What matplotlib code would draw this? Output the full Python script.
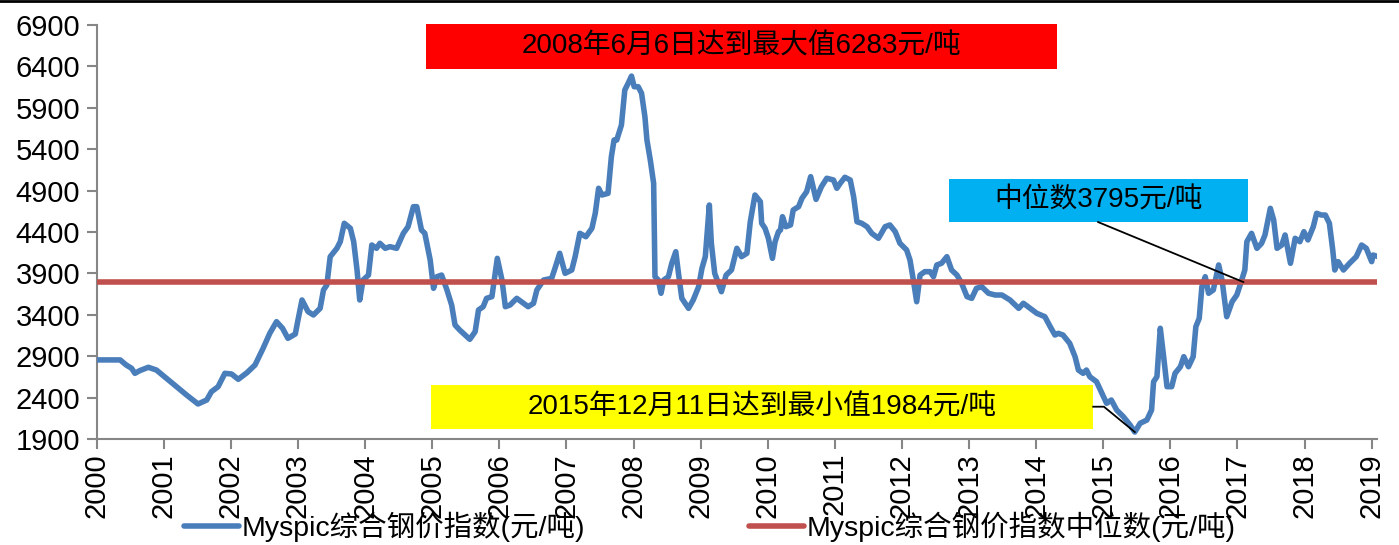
import matplotlib
matplotlib.use("Agg")
import matplotlib.pyplot as plt
from matplotlib.patches import Rectangle
from matplotlib.lines import Line2D

plt.rcParams['font.family'] = ['Liberation Sans', 'Noto Sans CJK SC', 'DejaVu Sans']

# ---- data (decimal year on the category-like axis, index value in 元/吨) ----
years = [2000.00, 2000.35, 2000.44, 2000.52, 2000.57, 2000.64, 2000.77, 2000.89,
         2001.04, 2001.19, 2001.34, 2001.51, 2001.64, 2001.71, 2001.81, 2001.91,
         2002.01, 2002.11, 2002.24, 2002.36, 2002.48, 2002.58, 2002.68, 2002.77,
         2002.85, 2002.96, 2003.00, 2003.06, 2003.15, 2003.23, 2003.33, 2003.38,
         2003.43, 2003.48, 2003.58, 2003.63, 2003.69, 2003.78, 2003.83, 2003.88,
         2003.92, 2003.97, 2004.05, 2004.10, 2004.17, 2004.22, 2004.30, 2004.37,
         2004.47, 2004.57, 2004.64, 2004.72, 2004.77, 2004.84, 2004.89, 2004.97,
         2005.02, 2005.07, 2005.14, 2005.22, 2005.29, 2005.34, 2005.41, 2005.49,
         2005.56, 2005.64, 2005.69, 2005.76, 2005.81, 2005.89, 2005.97, 2006.04,
         2006.09, 2006.16, 2006.26, 2006.36, 2006.43, 2006.51, 2006.56, 2006.66,
         2006.78, 2006.83, 2006.90, 2006.98, 2007.08, 2007.13, 2007.20, 2007.29,
         2007.38, 2007.43, 2007.48, 2007.53, 2007.62, 2007.67, 2007.71, 2007.75,
         2007.82, 2007.87, 2007.92, 2007.97, 2008.01, 2008.07, 2008.12, 2008.17,
         2008.20, 2008.25, 2008.30, 2008.32, 2008.37, 2008.41, 2008.45, 2008.52,
         2008.57, 2008.63, 2008.67, 2008.72, 2008.82, 2008.89, 2008.97, 2009.02,
         2009.07, 2009.13, 2009.16, 2009.21, 2009.31, 2009.38, 2009.46, 2009.54,
         2009.61, 2009.69, 2009.74, 2009.81, 2009.89, 2009.91, 2009.96, 2010.01,
         2010.07, 2010.11, 2010.16, 2010.19, 2010.22, 2010.27, 2010.34, 2010.38,
         2010.46, 2010.51, 2010.58, 2010.64, 2010.72, 2010.80, 2010.88, 2010.98,
         2011.03, 2011.08, 2011.15, 2011.23, 2011.28, 2011.33, 2011.40, 2011.48,
         2011.55, 2011.65, 2011.75, 2011.82, 2011.90, 2011.97, 2012.07, 2012.12,
         2012.17, 2012.22, 2012.27, 2012.34, 2012.42, 2012.47, 2012.52, 2012.59,
         2012.67, 2012.74, 2012.82, 2012.89, 2012.97, 2013.04, 2013.11, 2013.19,
         2013.29, 2013.39, 2013.49, 2013.61, 2013.74, 2013.81, 2013.91, 2014.01,
         2014.13, 2014.21, 2014.28, 2014.33, 2014.40, 2014.50, 2014.58, 2014.63,
         2014.70, 2014.75, 2014.80, 2014.90, 2014.97, 2015.05, 2015.12, 2015.20,
         2015.30, 2015.40, 2015.47, 2015.55, 2015.65, 2015.72, 2015.75, 2015.80,
         2015.85, 2015.90, 2015.95, 2016.02, 2016.07, 2016.15, 2016.20, 2016.27,
         2016.34, 2016.38, 2016.43, 2016.47, 2016.52, 2016.57, 2016.64, 2016.72,
         2016.77, 2016.84, 2016.92, 2016.99, 2017.04, 2017.11, 2017.14, 2017.21,
         2017.29, 2017.36, 2017.41, 2017.49, 2017.54, 2017.59, 2017.66, 2017.71,
         2017.79, 2017.86, 2017.93, 2017.99, 2018.05, 2018.13, 2018.18, 2018.25,
         2018.31, 2018.37, 2018.42, 2018.45, 2018.50, 2018.58, 2018.67, 2018.77,
         2018.85, 2018.92, 2019.00, 2019.02, 2019.10]

index_values = [2855, 2855, 2794, 2754, 2693, 2725, 2766, 2733,
                2633, 2532, 2431, 2323, 2371, 2471, 2532, 2693,
                2685, 2621, 2701, 2794, 2995, 3177, 3317, 3237,
                3116, 3168, 3337, 3579, 3438, 3398, 3478, 3700,
                3760, 4102, 4203, 4283, 4505, 4445, 4283, 3941,
                3579, 3820, 3880, 4243, 4203, 4264, 4203, 4223,
                4203, 4384, 4464, 4706, 4706, 4424, 4384, 4062,
                3720, 3860, 3880, 3700, 3518, 3277, 3216, 3156,
                3104, 3196, 3458, 3498, 3599, 3619, 4082, 3820,
                3498, 3518, 3599, 3539, 3498, 3539, 3700, 3820,
                3840, 3962, 4143, 3901, 3941, 4102, 4384, 4343,
                4445, 4626, 4928, 4847, 4867, 5309, 5511, 5511,
                5692, 6115, 6196, 6283, 6155, 6155, 6075, 5792,
                5511, 5270, 4988, 3860, 3820, 3660, 3820, 3860,
                4022, 4162, 3901, 3599, 3478, 3579, 3739, 3962,
                4102, 4726, 4264, 3901, 3679, 3880, 3941, 4203,
                4102, 4143, 4524, 4847, 4766, 4505, 4445, 4324,
                4082, 4283, 4404, 4424, 4585, 4464, 4485, 4666,
                4706, 4807, 4887, 5068, 4794, 4947, 5049, 5028,
                4928, 4988, 5061, 5028, 4827, 4524, 4505, 4464,
                4384, 4324, 4464, 4485, 4404, 4264, 4183, 4062,
                3820, 3558, 3880, 3921, 3921, 3860, 4002, 4022,
                4102, 3941, 3880, 3780, 3619, 3599, 3720, 3739,
                3660, 3639, 3639, 3579, 3478, 3539, 3478, 3418,
                3377, 3256, 3156, 3176, 3156, 3056, 2894, 2733,
                2693, 2733, 2652, 2592, 2471, 2331, 2371, 2250,
                2169, 2069, 1984, 2090, 2129, 2250, 2592, 2652,
                3237, 2894, 2532, 2532, 2693, 2773, 2894, 2773,
                2894, 3256, 3357, 3739, 3860, 3660, 3700, 4002,
                3820, 3377, 3558, 3639, 3760, 3941, 4283, 4384,
                4203, 4264, 4364, 4686, 4545, 4203, 4243, 4364,
                4022, 4324, 4283, 4404, 4304, 4464, 4626, 4605,
                4605, 4505, 4183, 3941, 4042, 3941, 4022, 4102,
                4243, 4203, 4042, 4122, 4102]

median_value = 3795
tick_years = list(range(2000, 2020))
y_ticks = [1900, 2400, 2900, 3400, 3900, 4400, 4900, 5400, 5900, 6400, 6900]

series_label = "Myspic综合钢价指数(元/吨)"
median_label = "Myspic综合钢价指数中位数(元/吨)"
max_text = "2008年6月6日达到最大值6283元/吨"
min_text = "2015年12月11日达到最小值1984元/吨"
med_text = "中位数3795元/吨"
max_point = (2007.97, 6283)
min_point = (2015.47, 1984)
med_point = (2017.09, 3795)

# ---- figure ----
fig = plt.figure(figsize=(13.99, 5.45), dpi=100)
ax = fig.add_axes([0.0691, 0.1945, 0.9152, 0.7596])

blue = "#4A7EBB"
red_line = "#C0504D"
fs = 21
fs_box = 20
fs_leg = 20.5

ax.plot(years, index_values, color=blue, lw=4.0, solid_joinstyle='round',
        solid_capstyle='round', label=series_label, zorder=3)
ax.plot([tick_years[0], years[-1]], [median_value, median_value], color=red_line,
        lw=4.0, solid_capstyle='round', label=median_label, zorder=4)

ax.set_xlim(2000, 2019.08)
ax.set_ylim(1900, 6900)
ax.set_xticks(tick_years)
ax.set_xticklabels([str(y) for y in tick_years], rotation=90, fontsize=fs)
ax.set_yticks(y_ticks)
ax.set_yticklabels([str(v) for v in y_ticks], fontsize=fs)
for s in ['top', 'right']:
    ax.spines[s].set_visible(False)
for s in ['left', 'bottom']:
    ax.spines[s].set_color('#868686')
    ax.spines[s].set_linewidth(1.5)
ax.tick_params(axis='both', direction='out', length=7, width=1.5, color='#868686',
               labelcolor='black')
ax.tick_params(axis='y', pad=5)
ax.tick_params(axis='x', pad=3)

# ---- annotation boxes ----
def box(x0, x1, y0, y1, color, text):
    ax.add_patch(Rectangle((x0, y0), x1 - x0, y1 - y0, transform=ax.transAxes,
                           facecolor=color, edgecolor='none', clip_on=False, zorder=5))
    ax.text((x0 + x1) / 2, (y0 + y1) / 2, text, transform=ax.transAxes,
            ha='center', va='center', fontsize=fs_box, color='black', zorder=6)

box(0.2572, 0.7501, 0.8937, 1.0024, "#FF0000", max_text)
box(0.6657, 0.8992, 0.5242, 0.6280, "#00B0F0", med_text)
box(0.2615, 0.7782, 0.0242, 0.1304, "#FFFF00", min_text)

# connector from median box to median line
ax.annotate("", xy=med_point, xycoords='data', xytext=(0.782, 0.5242),
            textcoords='axes fraction',
            arrowprops=dict(arrowstyle='-', color='black', lw=1.3,
                            shrinkA=0, shrinkB=0), zorder=6)
# elbow connector from min box to minimum point
ax.plot([2014.85, 2015.01, min_point[0]], [2290, 2290, min_point[1]],
        color='black', lw=1.3, zorder=6, clip_on=False)

# ---- legend ----
leg = fig.legend(loc='center', bbox_to_anchor=(0.5075, 0.033), ncol=2, frameon=False,
                 fontsize=fs_leg, handlelength=1.93, handletextpad=0.1,
                 columnspacing=5.75, borderaxespad=0)
for lh in leg.get_lines():
    lh.set_linewidth(4.0)

# top border line
fig.add_artist(Line2D([0, 1], [0.998, 0.998], transform=fig.transFigure,
                      color='black', lw=2))

fig.savefig("out.png", dpi=100)
